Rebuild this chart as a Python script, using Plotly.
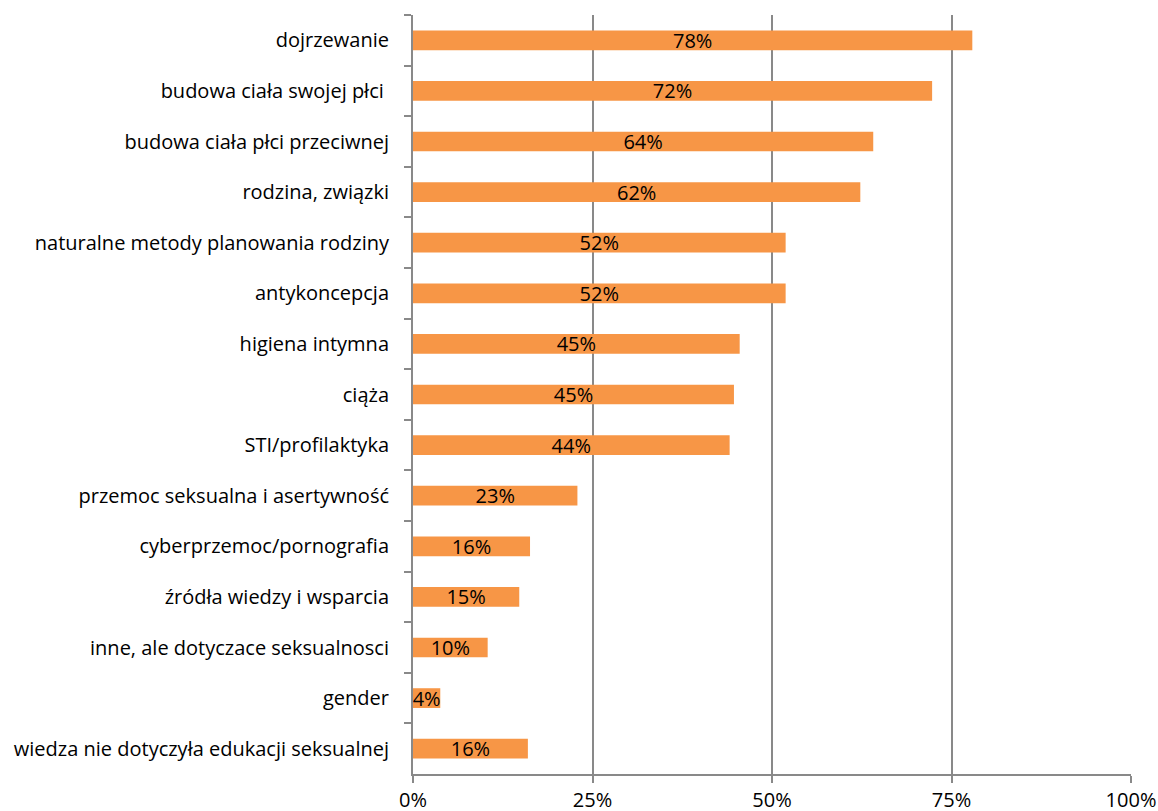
import plotly.graph_objects as go

categories = [
    "dojrzewanie",
    "budowa ciała swojej płci ",
    "budowa ciała płci przeciwnej",
    "rodzina, związki",
    "naturalne metody planowania rodziny",
    "antykoncepcja",
    "higiena intymna",
    "ciąża",
    "STI/profilaktyka",
    "przemoc seksualna i asertywność",
    "cyberprzemoc/pornografia",
    "źródła wiedzy i wsparcia",
    "inne, ale dotyczace seksualnosci",
    "gender",
    "wiedza nie dotyczyła edukacji seksualnej",
]
values = [0.779, 0.723, 0.641, 0.623, 0.519, 0.519, 0.455, 0.447, 0.441, 0.229, 0.163, 0.148, 0.104, 0.038, 0.16]
labels = ["78%", "72%", "64%", "62%", "52%", "52%", "45%", "45%", "44%", "23%", "16%", "15%", "10%", "4%", "16%"]
x_ticks = [0, 0.25, 0.5, 0.75, 1.0]
x_tick_labels = ["0%", "25%", "50%", "75%", "100%"]

font_family = "'Open Sans', 'Noto Sans', sans-serif"
font_size = 20
grid_color = "#898989"

fig = go.Figure(
    go.Bar(
        x=values,
        y=categories,
        orientation="h",
        marker=dict(color="#F79646", line=dict(width=0)),
        width=0.39,
        text=labels,
        textposition="inside",
        insidetextanchor="middle",
        constraintext="none",
        textfont=dict(family=font_family, size=font_size, color="#000000"),
        cliponaxis=False,
        hoverinfo="skip",
    )
)

fig.update_layout(
    width=1158,
    height=811,
    margin=dict(l=413, r=27, t=15, b=37),
    paper_bgcolor="white",
    plot_bgcolor="white",
    showlegend=False,
    font=dict(family=font_family, size=font_size, color="#000000"),
    xaxis=dict(
        range=[0, 1.0],
        tickvals=x_ticks,
        ticktext=x_tick_labels,
        showgrid=True,
        gridcolor=grid_color,
        gridwidth=2,
        zeroline=False,
        showline=True,
        linecolor=grid_color,
        linewidth=2,
        ticks="outside",
        ticklen=7,
        tickwidth=2,
        tickcolor=grid_color,
        ticklabelstandoff=0,
        automargin=False,
        tickfont=dict(family=font_family, size=font_size, color="#000000"),
        fixedrange=True,
    ),
    yaxis=dict(
        autorange="reversed",
        showgrid=False,
        zeroline=False,
        showline=True,
        linecolor=grid_color,
        linewidth=2,
        ticks="outside",
        tickson="boundaries",
        ticklen=7,
        tickwidth=2,
        tickcolor=grid_color,
        ticklabelstandoff=18,
        automargin=False,
        tickfont=dict(family=font_family, size=font_size, color="#000000"),
        fixedrange=True,
    ),
)

fig.write_html("out.html")
